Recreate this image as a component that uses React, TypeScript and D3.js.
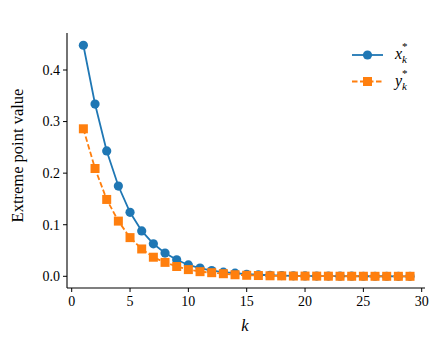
import React from 'react';
import * as d3 from 'd3';

// k = 1..29
const ks = d3.range(1, 30);
const xStar = [0.448, 0.334, 0.243, 0.175, 0.124, 0.088, 0.063, 0.045, 0.032, 0.022,
  0.016, 0.011, 0.008, 0.006, 0.004, 0.003, 0.002, 0.0015, 0.001, 0.0008,
  0.0005, 0.0004, 0.0003, 0.0002, 0.0001, 0.0001, 0.0001, 0.0, 0.0];
const yStar = [0.286, 0.209, 0.149, 0.107, 0.075, 0.053, 0.037, 0.027, 0.019, 0.013,
  0.009, 0.007, 0.005, 0.003, 0.002, 0.0015, 0.001, 0.0008, 0.0005, 0.0004,
  0.0003, 0.0002, 0.0001, 0.0001, 0.0001, 0.0, 0.0, 0.0, 0.0];
const xTicks = [0, 5, 10, 15, 20, 25, 30];
const yTicks = [0.0, 0.1, 0.2, 0.3, 0.4];

const BLUE = '#1f77b4';
const ORANGE = '#ff7f0e';
const FONT = '"Liberation Serif", "Times New Roman", serif';

export default function App() {
  const W = 448, H = 339;
  // axis frame
  const left = 67, right = 425, top = 33, bottom = 288;

  const x = d3.scaleLinear().domain([0, 30]).range([71.7, 421.7]);
  const y = d3.scaleLinear().domain([0, 0.4]).range([276.3, 70]);

  const line = d3.line<number>()
    .x((d, i) => x(ks[i]))
    .y(d => y(d));

  return (
    <svg width={W} height={H} style={{ position: 'absolute', left: 0, top: 0 }}>
      <rect width={W} height={H} fill="white" />
      {/* spines */}
      <line x1={left} x2={left} y1={top} y2={bottom} stroke="black" strokeWidth={1.1} />
      <line x1={left} x2={right} y1={bottom} y2={bottom} stroke="black" strokeWidth={1.1} />
      {/* x ticks */}
      {xTicks.map(t => (
        <g key={'x' + t}>
          <line x1={x(t)} x2={x(t)} y1={bottom} y2={bottom + 4} stroke="black" strokeWidth={1} />
          <text x={x(t)} y={bottom + 18} textAnchor="middle" fontFamily={FONT} fontSize={14}>{t}</text>
        </g>
      ))}
      {/* y ticks */}
      {yTicks.map(t => (
        <g key={'y' + t}>
          <line x1={left - 4} x2={left} y1={y(t)} y2={y(t)} stroke="black" strokeWidth={1} />
          <text x={left - 7} y={y(t) + 4.8} textAnchor="end" fontFamily={FONT} fontSize={14}>{t.toFixed(1)}</text>
        </g>
      ))}
      <text x={245} y={331} textAnchor="middle" fontFamily={FONT} fontSize={16.5} fontStyle="italic">k</text>
      <text transform={`translate(23,${(top + bottom) / 2 - 5}) rotate(-90)`} textAnchor="middle"
        fontFamily={FONT} fontSize={16.5}>Extreme point value</text>

      {/* series */}
      <path d={line(xStar) || ''} fill="none" stroke={BLUE} strokeWidth={1.8} />
      {xStar.map((v, i) => (
        <circle key={'c' + i} cx={x(ks[i])} cy={y(v)} r={4.6} fill={BLUE} />
      ))}
      <path d={line(yStar) || ''} fill="none" stroke={ORANGE} strokeWidth={1.8} strokeDasharray="5.5,2.5" />
      {yStar.map((v, i) => (
        <rect key={'s' + i} x={x(ks[i]) - 4.5} y={y(v) - 4.5} width={9} height={9} fill={ORANGE} />
      ))}

      {/* legend */}
      <g>
        <line x1={352} x2={383} y1={55} y2={55} stroke={BLUE} strokeWidth={1.8} />
        <circle cx={367.5} cy={55} r={4.6} fill={BLUE} />
        <text x={395} y={59} fontFamily={FONT} fontSize={16} fontStyle="italic">x
          <tspan fontSize={11} dy={4}>k</tspan>
          <tspan fontSize={11} dx={-5} dy={-13} fontStyle="normal">*</tspan>
        </text>
        <line x1={352} x2={383} y1={81.5} y2={81.5} stroke={ORANGE} strokeWidth={1.8} strokeDasharray="5.5,2.5" />
        <rect x={363} y={77} width={9} height={9} fill={ORANGE} />
        <text x={395} y={85.5} fontFamily={FONT} fontSize={16} fontStyle="italic">y
          <tspan fontSize={11} dy={4}>k</tspan>
          <tspan fontSize={11} dx={-5} dy={-13} fontStyle="normal">*</tspan>
        </text>
      </g>
    </svg>
  );
}
